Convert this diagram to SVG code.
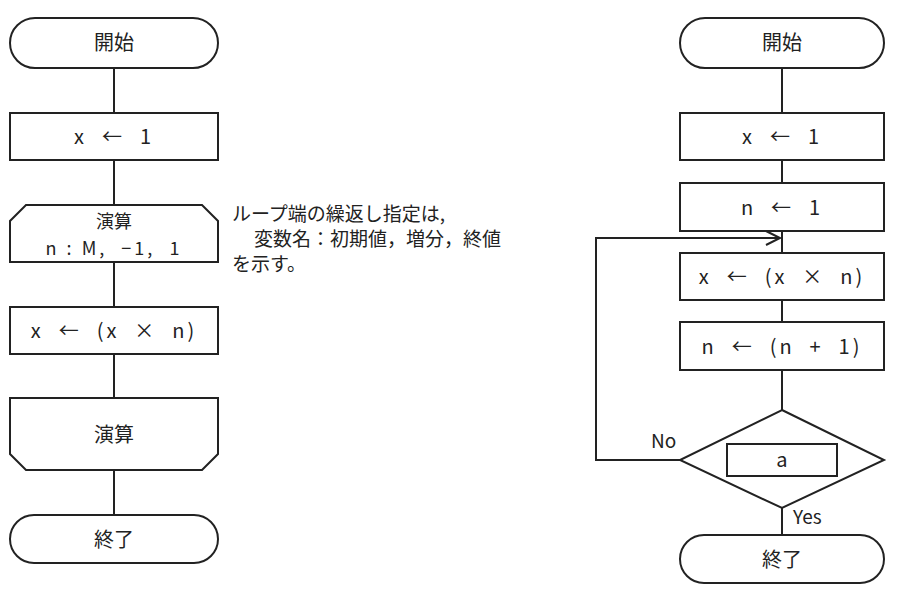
<svg xmlns="http://www.w3.org/2000/svg" width="916" height="606" viewBox="0 0 916 606">
<style>
.s{fill:#fff;stroke:#222;stroke-width:2}
.l{fill:none;stroke:#222;stroke-width:2}
text{font-family:"Noto Sans CJK JP","DejaVu Sans",sans-serif;font-size:20px;fill:#222;text-anchor:middle;white-space:pre}
.c{letter-spacing:3px}
.n{text-anchor:start;font-size:19px}
.sm{font-size:18px}
</style>
<rect width="916" height="606" fill="#fff"/>
<g id="connectors">
<line class="l" x1="114" y1="68" x2="114" y2="515"/>
<line class="l" x1="782" y1="68" x2="782" y2="535"/>
<polyline class="l" points="680,460 596,460 596,238 778,238"/>
<polyline class="l" points="766,231 780,238 766,245"/>
</g>
<g id="L_start"><rect class="s" x="10" y="18" width="208" height="50" rx="25"/><text x="114" y="50">開始</text></g>
<g id="L_x1"><rect class="s" x="10" y="113" width="208" height="47"/><text class="c" x="114" y="144">x  ←  1</text></g>
<g id="L_loop"><polygon class="s" points="26,205 202,205 218,221 218,262 10,262 10,221"/><text class="sm" x="114" y="228">演算</text><text class="c sm" x="114" y="255">n : M,  −1,  1</text></g>
<g id="note"><text class="n" x="232" y="221">ループ端の繰返し指定は,</text><text class="n" x="254" y="246">変数名：初期値，増分，終値</text><text class="n" x="232" y="271">を示す。</text></g>
<g id="L_calc"><rect class="s" x="10" y="307" width="208" height="47"/><text class="c" x="114" y="338">x  ←  (x  ×  n)</text></g>
<g id="L_end"><polygon class="s" points="10,398 218,398 218,454 202,470 26,470 10,454"/><text x="114" y="442">演算</text></g>
<g id="L_stop"><rect class="s" x="10" y="515" width="208" height="48" rx="24"/><text x="114" y="547">終了</text></g>
<g id="R_start"><rect class="s" x="680" y="18" width="204" height="50" rx="25"/><text x="782" y="50">開始</text></g>
<g id="R_x1"><rect class="s" x="680" y="113" width="204" height="47"/><text class="c" x="782" y="144">x  ←  1</text></g>
<g id="R_n1"><rect class="s" x="680" y="183" width="204" height="48"/><text class="c" x="782" y="215">n  ←  1</text></g>
<g id="R_calc"><rect class="s" x="680" y="253" width="204" height="47"/><text class="c" x="782" y="284">x  ←  (x  ×  n)</text></g>
<g id="R_inc"><rect class="s" x="680" y="322" width="204" height="48"/><text class="c" x="782" y="354">n  ←  (n  +  1)</text></g>
<g id="R_dec"><polygon class="s" points="782,410 884,460 782,508 680,460"/><rect class="s" x="727" y="444" width="110" height="32"/><text x="782" y="467">a</text><text class="n" x="651" y="448">No</text><text class="n" x="793" y="524">Yes</text></g>
<g id="R_stop"><rect class="s" x="680" y="535" width="204" height="48" rx="24"/><text x="782" y="567">終了</text></g>
</svg>
